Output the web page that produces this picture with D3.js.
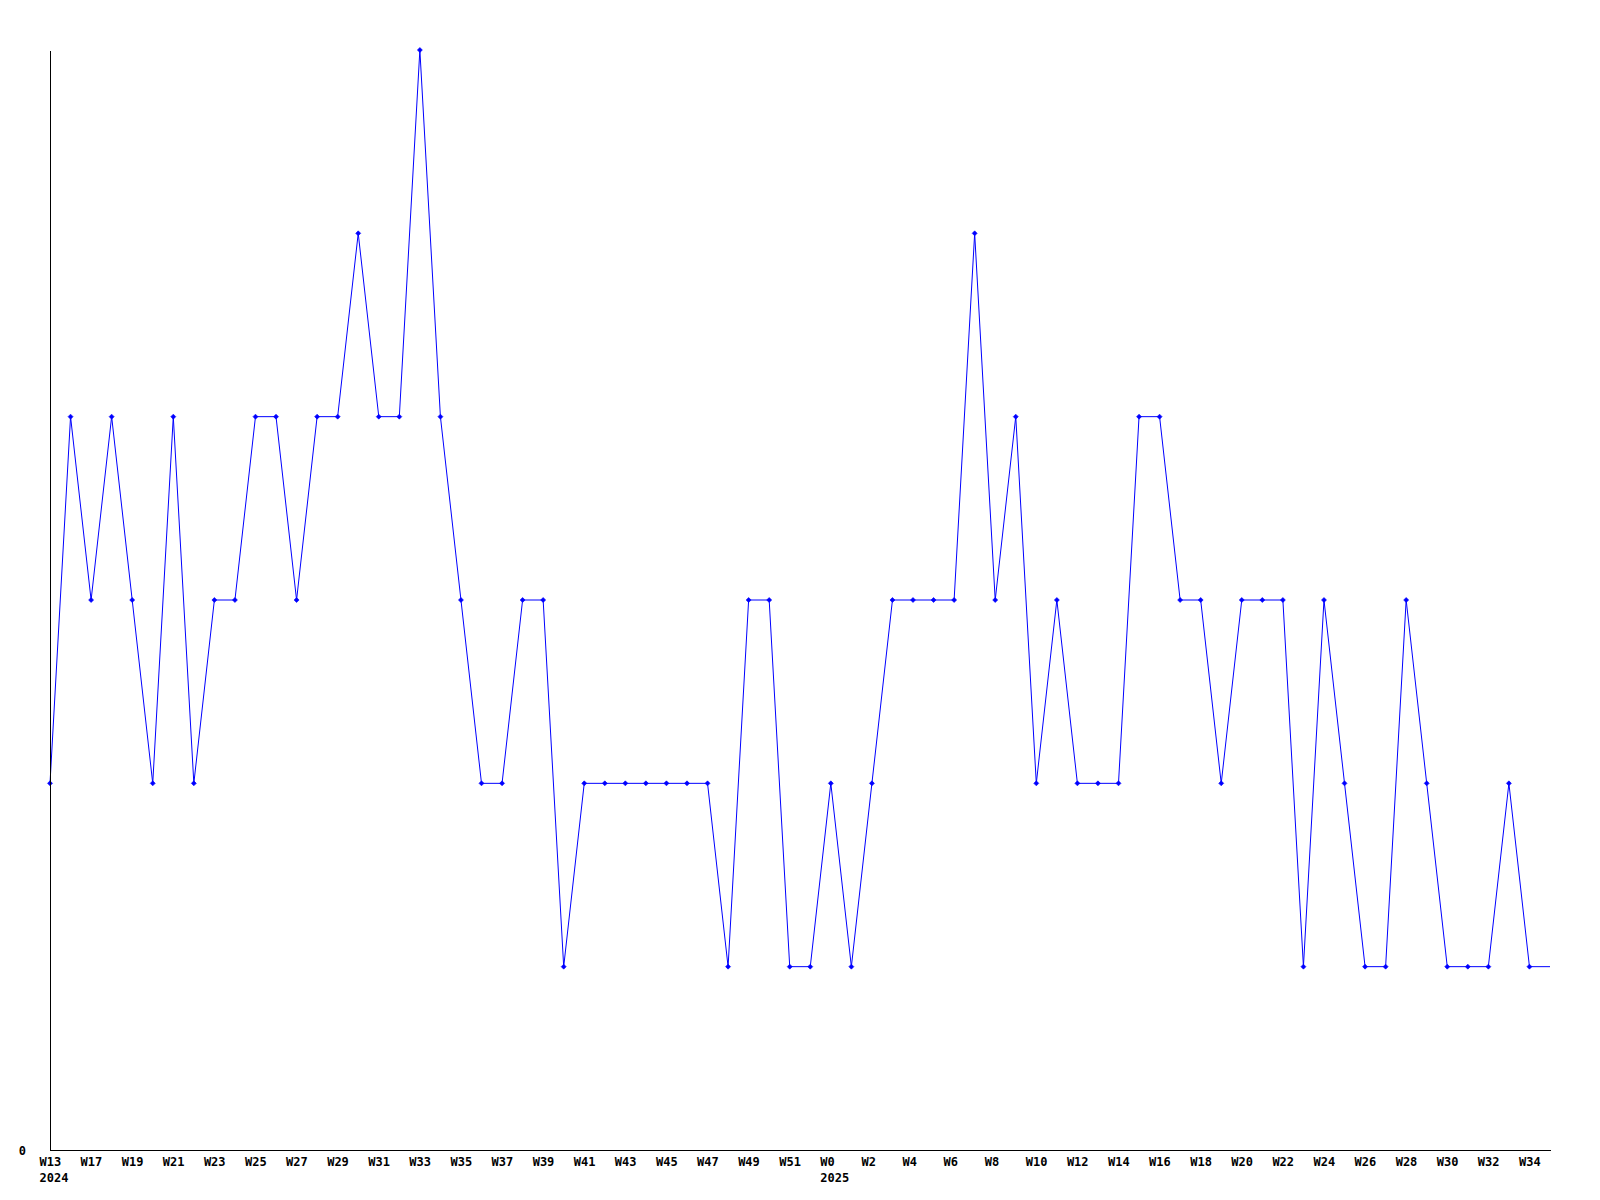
<!DOCTYPE html>
<html>
<head>
<meta charset="utf-8">
<script src="https://cdn.jsdelivr.net/npm/d3@7"></script>
<style>
  html, body { margin: 0; padding: 0; background: #fff; }
  svg { display: block; }
  text { font-family: "DejaVu Sans Mono", "Liberation Mono", monospace; font-weight: bold; font-size: 12px; fill: #000; }
</style>
</head>
<body>
<script>
// Weekly values (one point per week)
const values = [2,4,3,4,3,2,4,2,3,3,
                4,4,3,4,4,5,4,4,6,4,
                3,2,2,3,3,1,2,2,2,2,
                2,2,2,1,3,3,1,1,2,1,
                2,3,3,3,3,5,3,4,2,3,
                2,2,2,4,4,3,3,2,3,3,
                3,1,3,2,1,1,3,2,1,1,
                1,2,1,1];
// Points drawn with a marker (the final, partial week has none)
const markedCount = 73;
// X tick labels: index of week -> label, with year on second line
const tickIndex = [0,2,4,6,8,10,12,14,16,18,20,22,24,26,28,30,32,34,36,38,40,42,44,46,48,50,52,54,56,58,60,62,64,66,68,70,72];
const tickLabels = ["W13","W17","W19","W21","W23","W25","W27","W29","W31","W33","W35","W37","W39","W41","W43","W45","W47","W49","W51","W0","W2","W4","W6","W8","W10","W12","W14","W16","W18","W20","W22","W24","W26","W28","W30","W32","W34"];
const tickYears = {0: "2024", 38: "2025"};
const yTicks = [0];

const W = 1600, H = 1200;
const mLeft = 50, mRight = 1550, mTop = 50, mBottom = 1150;

const svg = d3.select("body").append("svg").attr("width", W).attr("height", H);

const x = d3.scaleLinear().domain([0, values.length - 1]).range([mLeft, mRight]);
const y = d3.scaleLinear().domain([0, 6]).range([mBottom, mTop]);

// Line
const line = d3.line().x((d, i) => x(i)).y(d => y(d));
svg.append("path")
  .datum(values)
  .attr("fill", "none")
  .attr("stroke", "#0000ff")
  .attr("stroke-width", 1)
  .attr("d", line);

// Markers
svg.append("g").selectAll("path")
  .data(values.slice(0, markedCount))
  .join("path")
  .attr("transform", (d, i) => `translate(${x(i)},${y(d)})`)
  .attr("d", "M-2.5,0L0,-2.5L2.5,0L0,2.5Z")
  .attr("fill", "#0000ff")
  .attr("stroke", "#0000ff")
  .attr("stroke-width", 0.6);

// X axis
const xAxis = d3.axisBottom(x)
  .tickValues(tickIndex)
  .tickSize(0)
  .tickSizeOuter(0)
  .tickFormat((d, i) => tickLabels[i]);
const gx = svg.append("g").attr("transform", `translate(0,${mBottom})`).call(xAxis);
gx.select(".domain").attr("stroke", "#000").attr("stroke-width", 1).attr("shape-rendering", "crispEdges");
gx.selectAll(".tick text")
  .attr("text-anchor", "start")
  .attr("x", -11)
  .attr("y", 16)
  .attr("dy", null)
  .each(function(d) {
    if (tickYears[d]) {
      d3.select(this.parentNode).append("text")
        .attr("text-anchor", "start")
        .attr("x", -11)
        .attr("y", 32)
        .text(tickYears[d]);
    }
  });

// Y axis
const yAxis = d3.axisLeft(y)
  .tickValues(yTicks)
  .tickSize(0)
  .tickSizeOuter(0)
  .tickFormat(d3.format("d"));
const gy = svg.append("g").attr("transform", `translate(${mLeft},0)`).call(yAxis);
gy.select(".domain").attr("stroke", "#000").attr("stroke-width", 1).attr("shape-rendering", "crispEdges");
gy.selectAll(".tick text")
  .attr("text-anchor", "end")
  .attr("x", -24)
  .attr("y", 4)
  .attr("dy", null);
svg.selectAll("g.tick text")
  .style("font-family", "'DejaVu Sans Mono', monospace")
  .style("font-weight", "bold")
  .style("font-size", "12px")
  .style("fill", "#000");
gx.attr("font-family", null).attr("font-size", null);
gy.attr("font-family", null).attr("font-size", null);
</script>
</body>
</html>
